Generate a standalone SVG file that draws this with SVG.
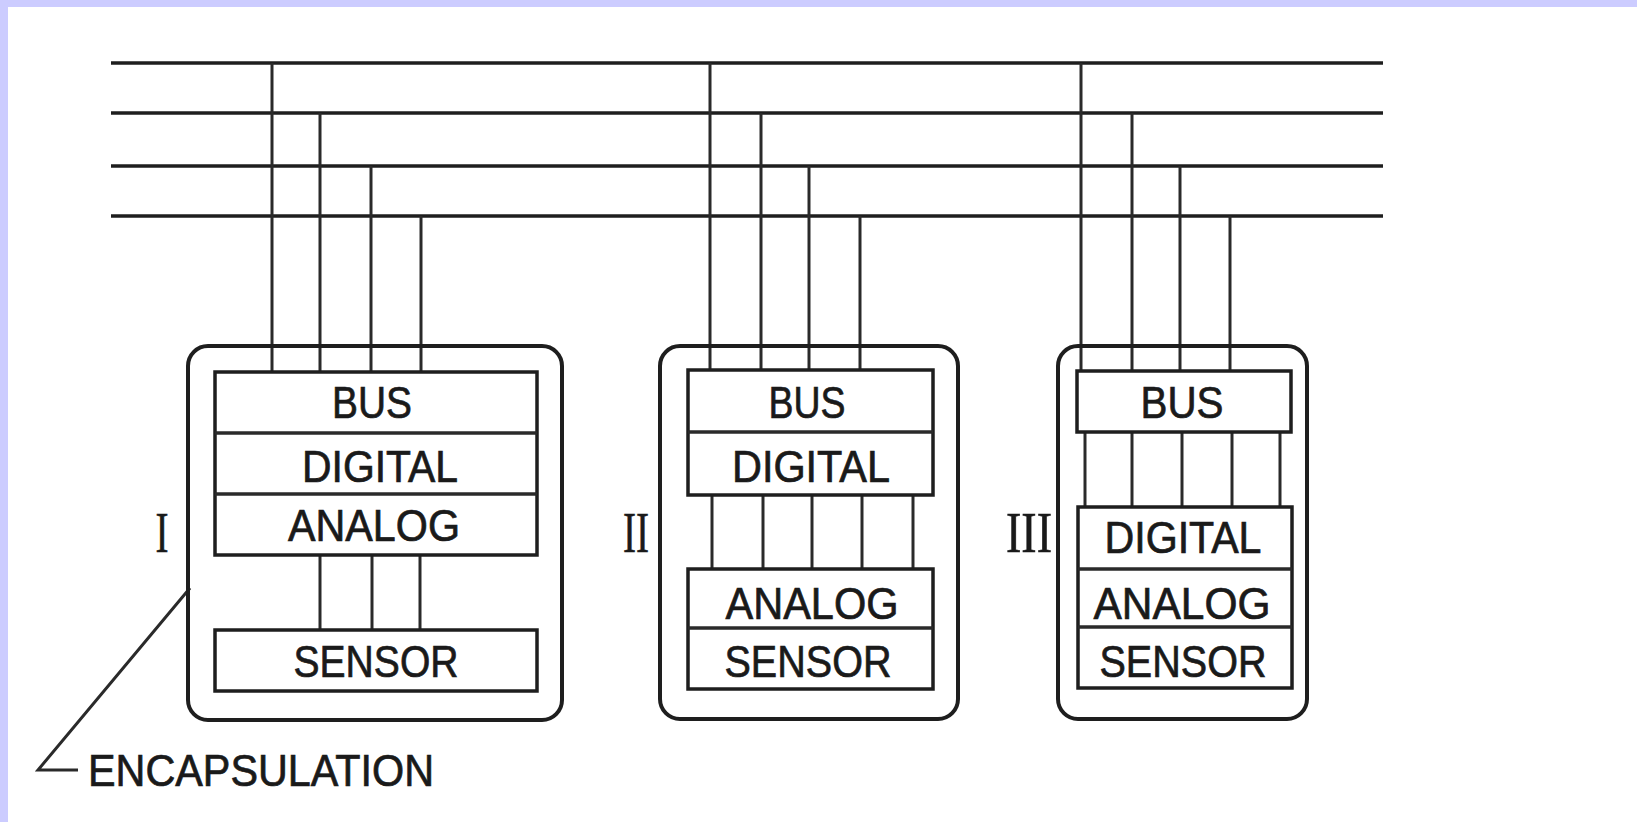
<svg xmlns="http://www.w3.org/2000/svg" width="1637" height="822" viewBox="0 0 1637 822">
<style>
.bg{fill:#ffffff}
.frame{fill:#ccccff}
.bus{stroke:#1e1e1e;stroke-width:3.5;fill:none}
.wire{stroke:#2a2a2a;stroke-width:3;fill:none}
.enc{fill:none;stroke:#1e1e1e;stroke-width:4}
.box{fill:#ffffff;stroke:#1e1e1e;stroke-width:3.5}
.div{stroke:#2a2a2a;stroke-width:3.5}
.lbl{font-family:"Liberation Sans",Arial,sans-serif;font-size:44px;fill:#1a1a1a;stroke:#1a1a1a;stroke-width:0.7;text-anchor:middle}
.num{font-family:"Liberation Serif","Times New Roman",serif;font-size:56px;fill:#1a1a1a;stroke:#1a1a1a;stroke-width:0.6;text-anchor:middle}
</style>
<rect class="bg" x="0" y="0" width="1637" height="822"/>
<rect class="frame" x="0" y="0" width="1637" height="7"/>
<rect class="frame" x="0" y="0" width="8" height="822"/>

<g id="connectors">
  <line class="bus" x1="111" y1="63" x2="1383" y2="63"/>
  <line class="bus" x1="111" y1="113" x2="1383" y2="113"/>
  <line class="bus" x1="111" y1="166" x2="1383" y2="166"/>
  <line class="bus" x1="111" y1="216" x2="1383" y2="216"/>
  <line class="wire" x1="272" y1="63" x2="272" y2="372"/>
  <line class="wire" x1="320" y1="113" x2="320" y2="372"/>
  <line class="wire" x1="371" y1="166" x2="371" y2="372"/>
  <line class="wire" x1="421" y1="216" x2="421" y2="372"/>
  <line class="wire" x1="710" y1="63" x2="710" y2="370"/>
  <line class="wire" x1="761" y1="113" x2="761" y2="370"/>
  <line class="wire" x1="809" y1="166" x2="809" y2="370"/>
  <line class="wire" x1="860" y1="216" x2="860" y2="370"/>
  <line class="wire" x1="1081" y1="63" x2="1081" y2="371"/>
  <line class="wire" x1="1132" y1="113" x2="1132" y2="371"/>
  <line class="wire" x1="1180" y1="166" x2="1180" y2="371"/>
  <line class="wire" x1="1230" y1="216" x2="1230" y2="371"/>
  <line class="wire" x1="320" y1="555" x2="320" y2="630"/>
  <line class="wire" x1="372" y1="555" x2="372" y2="630"/>
  <line class="wire" x1="420" y1="555" x2="420" y2="630"/>
  <line class="wire" x1="712" y1="495" x2="712" y2="569"/>
  <line class="wire" x1="763" y1="495" x2="763" y2="569"/>
  <line class="wire" x1="812" y1="495" x2="812" y2="569"/>
  <line class="wire" x1="862" y1="495" x2="862" y2="569"/>
  <line class="wire" x1="913" y1="495" x2="913" y2="569"/>
  <line class="wire" x1="1085" y1="432" x2="1085" y2="507"/>
  <line class="wire" x1="1132" y1="432" x2="1132" y2="507"/>
  <line class="wire" x1="1182" y1="432" x2="1182" y2="507"/>
  <line class="wire" x1="1232" y1="432" x2="1232" y2="507"/>
  <line class="wire" x1="1280" y1="432" x2="1280" y2="507"/>
  <polyline class="wire" points="190,588 38,770 78,770"/>
</g>

<g id="node-I">
  <rect class="enc" x="188" y="346" width="374" height="374" rx="20"/>
  <rect class="box" x="215" y="372" width="322" height="183"/>
  <line class="div" x1="215" y1="433" x2="537" y2="433"/>
  <line class="div" x1="215" y1="494" x2="537" y2="494"/>
  <rect class="box" x="215" y="630" width="322" height="61"/>
  <text class="lbl" x="372" y="418" textLength="80" lengthAdjust="spacingAndGlyphs">BUS</text>
  <text class="lbl" x="380" y="482" textLength="156" lengthAdjust="spacingAndGlyphs">DIGITAL</text>
  <text class="lbl" x="374" y="541" textLength="172" lengthAdjust="spacingAndGlyphs">ANALOG</text>
  <text class="lbl" x="376" y="677" textLength="165" lengthAdjust="spacingAndGlyphs">SENSOR</text>
  <text class="num" x="162" y="552" textLength="13" lengthAdjust="spacingAndGlyphs">I</text>
</g>

<g id="node-II">
  <rect class="enc" x="660" y="346" width="298" height="373" rx="20"/>
  <rect class="box" x="688" y="370" width="245" height="125"/>
  <line class="div" x1="688" y1="432" x2="933" y2="432"/>
  <rect class="box" x="688" y="569" width="245" height="120"/>
  <line class="div" x1="688" y1="628" x2="933" y2="628"/>
  <text class="lbl" x="807" y="418" textLength="77" lengthAdjust="spacingAndGlyphs">BUS</text>
  <text class="lbl" x="811" y="482" textLength="158" lengthAdjust="spacingAndGlyphs">DIGITAL</text>
  <text class="lbl" x="812" y="619" textLength="173" lengthAdjust="spacingAndGlyphs">ANALOG</text>
  <text class="lbl" x="808" y="677" textLength="167" lengthAdjust="spacingAndGlyphs">SENSOR</text>
  <text class="num" x="636" y="552" textLength="26" lengthAdjust="spacingAndGlyphs">II</text>
</g>

<g id="node-III">
  <rect class="enc" x="1058" y="346" width="249" height="373" rx="20"/>
  <rect class="box" x="1077" y="371" width="214" height="61"/>
  <rect class="box" x="1078" y="507" width="214" height="181"/>
  <line class="div" x1="1078" y1="569" x2="1292" y2="569"/>
  <line class="div" x1="1078" y1="627" x2="1292" y2="627"/>
  <text class="lbl" x="1182" y="418" textLength="83" lengthAdjust="spacingAndGlyphs">BUS</text>
  <text class="lbl" x="1183" y="553" textLength="157" lengthAdjust="spacingAndGlyphs">DIGITAL</text>
  <text class="lbl" x="1182" y="619" textLength="177" lengthAdjust="spacingAndGlyphs">ANALOG</text>
  <text class="lbl" x="1183" y="677" textLength="167" lengthAdjust="spacingAndGlyphs">SENSOR</text>
  <text class="num" x="1029" y="552" textLength="46" lengthAdjust="spacingAndGlyphs">III</text>
</g>

<g id="label-encapsulation">
  <text class="lbl" x="261" y="786" textLength="346" lengthAdjust="spacingAndGlyphs">ENCAPSULATION</text>
</g>
</svg>
